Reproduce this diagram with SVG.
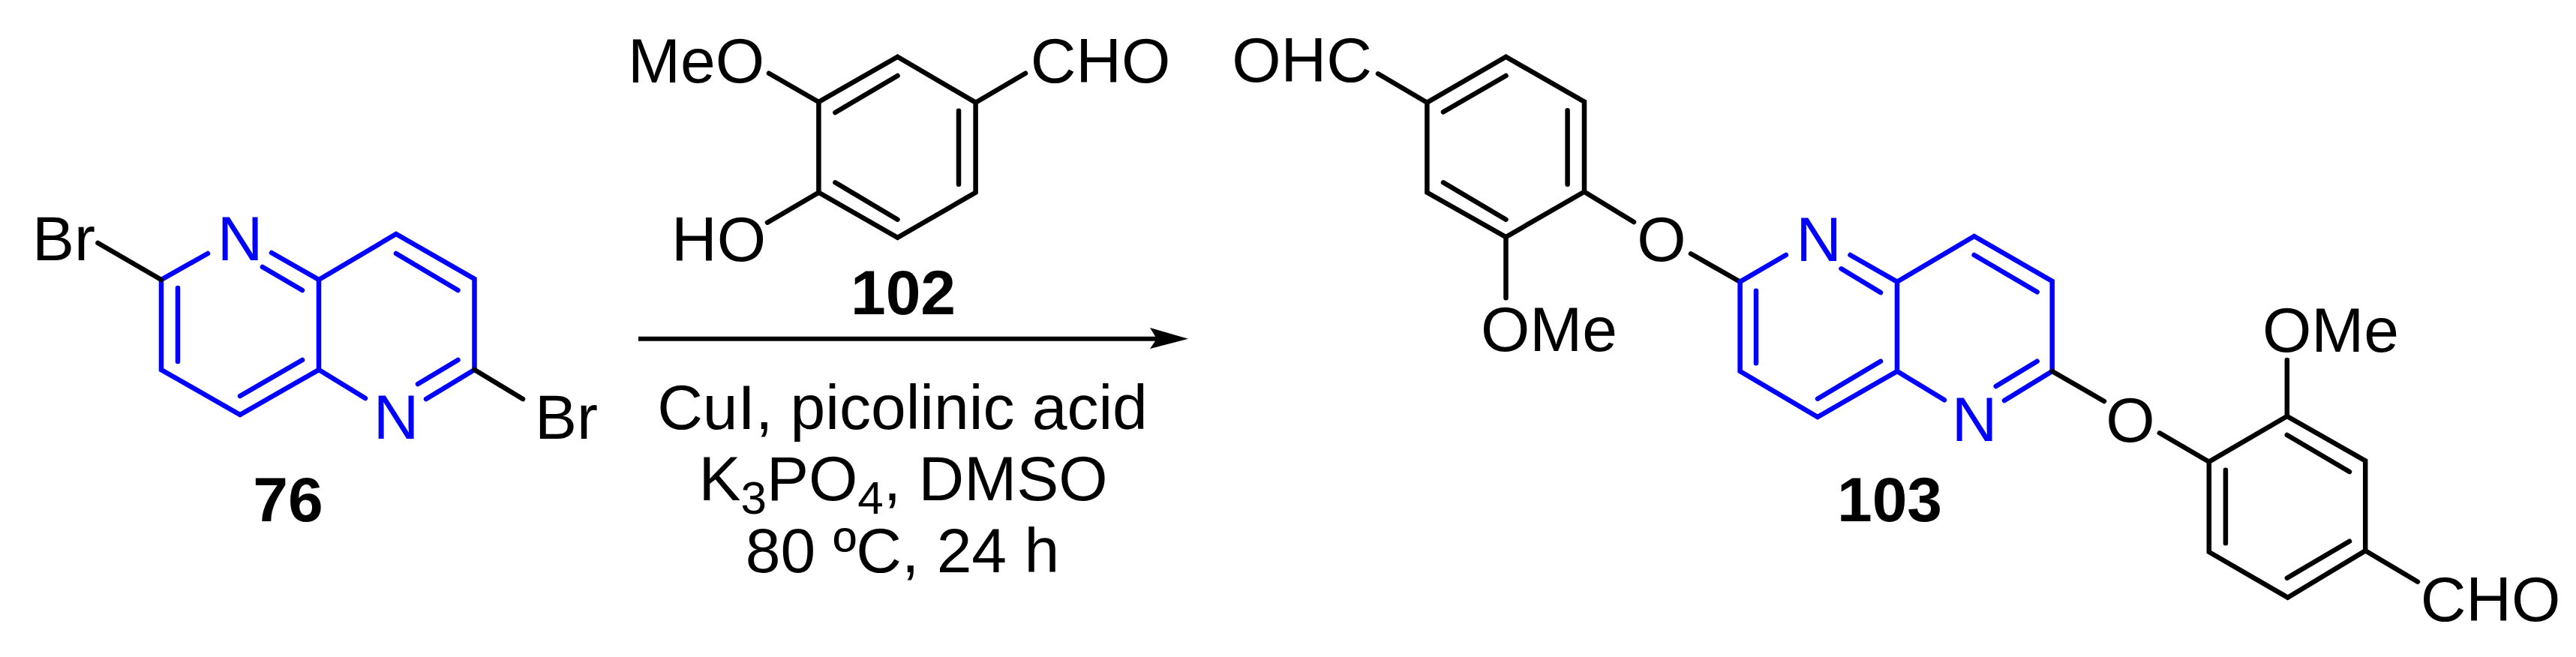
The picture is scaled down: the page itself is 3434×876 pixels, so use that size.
<svg xmlns="http://www.w3.org/2000/svg" width="3434" height="876" viewBox="0 0 3434 876">
<style>
text{font-family:"Liberation Sans",Arial,sans-serif;font-size:84px;fill:#000;text-anchor:middle}
text.b{font-weight:bold}
text.n{fill:#0000ff}
tspan.s{font-size:62px}
.k path,.u path{fill:none;stroke-width:6.5;stroke-linecap:round;stroke-linejoin:miter}
.k path{stroke:#000}
.u path{stroke:#0000ff}
</style>
<rect width="3434" height="876" fill="#fff"/>
<g id="compound-76">
<g class="u"><path d="M277 338L215 373V493L320 553L425 493V373L362 337M350 356L403 387M237 384V482M403 480L320 528M425 373L528 312L632.5 372V493L568 532M528 338L610.5 387M610.5 480L557 512M425 493L487 531"/></g>
<g class="k"><path d="M130.5 324L215 373M632.5 493L697 532"/></g>
<text x="85" y="347">Br</text>
<text x="320" y="347" class="n">N</text>
<text x="528" y="585" class="n">N</text>
<text x="755" y="585">Br</text>
<text x="384" y="695" class="b">76</text>
</g>
<g id="compound-102">
<g class="k"><path d="M1196.5 75.7L1091.4 136V256.7L1196.5 316.7L1300.6 256.7V136.7ZM1025 97.7L1091.4 136M1300.6 136.7L1367 97.7M1091.4 256.7L1023 296.7M1113.4 150L1196.5 101M1278 147.7V245.7M1113.4 243.3L1196.5 292.7"/></g>
<text x="928" y="110">MeO</text>
<text x="1467" y="110">CHO</text>
<text x="958" y="348">HO</text>
<text x="1204" y="419" class="b">102</text>
</g>
<g id="connectors">
<path d="M851 451.7H1560" stroke="#000" stroke-width="6" fill="none"/>
<path d="M1584 451.7L1533 437L1542 451.7L1533 465Z" fill="#000"/>
</g>
<g id="conditions">
<text x="1203" y="571.7">CuI, picolinic acid</text>
<text x="1204" y="666.7">K<tspan class="s" dy="18">3</tspan><tspan dy="-18">PO</tspan><tspan class="s" dy="18">4</tspan><tspan dy="-18">, DMSO</tspan></text>
<text x="1203" y="762.7">80 ºC, 24 h</text>
</g>
<g id="compound-103">
<g class="k"><path d="M2007.5 75.7L1902.4 136.7V256.7L2007.5 316L2112 255.7V135.7ZM1837 98.3L1902.4 136.7M1924 149.3L2007.5 101M2089.6 147.3V245.7M1924 243.3L2007.5 292.7M2007.5 316V397.3M2112 255.7L2178 296M2254 338.3L2319.6 375.7"/></g>
<g class="u"><path d="M2380.8 340L2319.6 375.7V495L2423 556L2529 495V375.7L2466.5 340M2454.5 358.3L2507 390M2341 387.7V484.3M2507 481.7L2423 531.7M2529 375.7L2631.7 315L2735.7 375V495L2672 534M2631.7 340L2715.6 389.3M2715.6 481.7L2660.7 515M2529 495L2592 533.3"/></g>
<g class="k"><path d="M2735.7 495L2805 535M2878.8 577.3L2944.8 615.7M3048.8 555L2944.8 615.7V736L3049.7 796.7L3153.2 734.3V614.3ZM3048.8 480V555M3048.8 580L3132 629M2966.9 626.7V724.3M3132 721.7L3048.8 770.7M3153.2 734.3L3223 775.7"/></g>
<text x="1735.5" y="109.3">OHC</text>
<text x="2065" y="468.3">OMe</text>
<text x="2215" y="348.3">O</text>
<text x="2424.5" y="348.3" class="n">N</text>
<text x="2632" y="588.3" class="n">N</text>
<text x="2840" y="589">O</text>
<text x="3107" y="468.7">OMe</text>
<text x="3320" y="827.7">CHO</text>
<text x="2519" y="695" class="b">103</text>
</g>
</svg>
